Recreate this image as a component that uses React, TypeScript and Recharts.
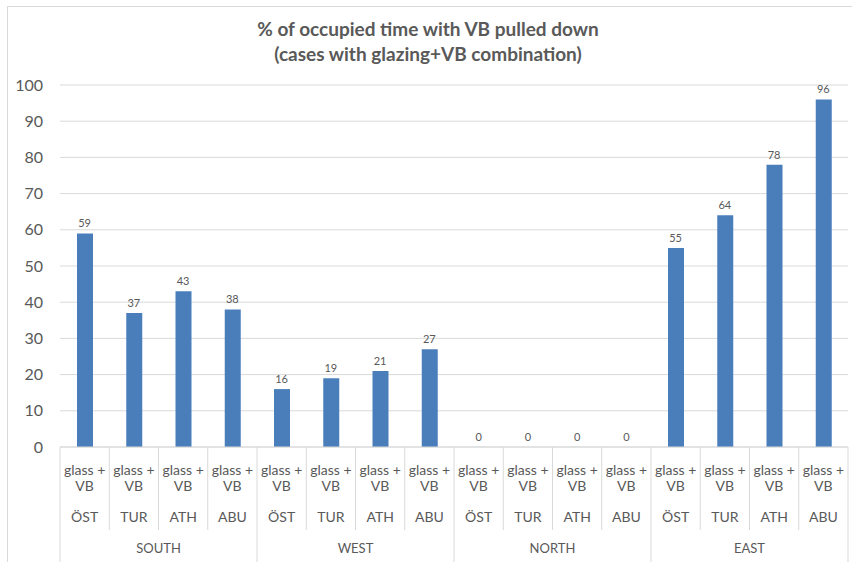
import React from "react";
import { ComposedChart, Bar, Line, XAxis, YAxis, CartesianGrid, LabelList } from "recharts";

const groups = ["SOUTH", "WEST", "NORTH", "EAST"];
const cities = ["ÖST", "TUR", "ATH", "ABU"];
const caseLabel = ["glass +", "VB"];
const values = [59, 37, 43, 38, 16, 19, 21, 27, 0, 0, 0, 0, 55, 64, 78, 96];
const yTicks = [0, 10, 20, 30, 40, 50, 60, 70, 80, 90, 100];

const data = values.map((v, i) => ({
  key: `${groups[Math.floor(i / 4)]}-${cities[i % 4]}`,
  group: groups[Math.floor(i / 4)],
  city: cities[i % 4],
  value: v,
}));

const W = 852;
const H = 562;
const MARGIN = { top: 85, right: 4, bottom: 0, left: 8 };
const Y_WIDTH = 52;
const BAND = (W - MARGIN.left - Y_WIDTH - MARGIN.right) / values.length;

const FONT = "Lato, 'Liberation Sans', sans-serif";
const TEXT = "#595959";
const LINE = "#d9d9d9";
const BAR = "#4a7ebb";

function CategoryTick(props: any) {
  const { x, y, payload, index } = props;
  const half = BAND / 2;
  const item = data[index] || data.find((d) => d.key === payload.value);
  const isGroupStart = index % 4 === 0;
  const isLast = index === data.length - 1;
  return (
    <g fontFamily={FONT} fill={TEXT}>
      <line x1={x - half} x2={x - half} y1={y} y2={isGroupStart ? H : y + 83} stroke={LINE} />
      {isLast && <line x1={x + half} x2={x + half} y1={y} y2={H} stroke={LINE} />}
      <text x={x} y={y + 24} textAnchor="middle" dominantBaseline="middle" fontSize={14}>
        {caseLabel[0]}
      </text>
      <text x={x} y={y + 40} textAnchor="middle" dominantBaseline="middle" fontSize={14}>
        {caseLabel[1]}
      </text>
      <text x={x} y={y + 71} textAnchor="middle" dominantBaseline="middle" fontSize={14}>
        {item ? item.city : ""}
      </text>
      {index % 4 === 1 && (
        <text x={x + half} y={y + 103} textAnchor="middle" dominantBaseline="middle" fontSize={13}>
          {item ? item.group : ""}
        </text>
      )}
    </g>
  );
}

export default function App() {
  return (
    <div style={{ position: "absolute", left: 0, top: 0, width: W, height: H, background: "#fff", overflow: "hidden" }}>
      <div
        style={{
          position: "absolute",
          left: 7,
          top: 6,
          width: W,
          height: H,
          border: `1px solid ${LINE}`,
        }}
      />
      <div
        style={{
          position: "absolute",
          left: 0,
          top: 16,
          width: 856,
          textAlign: "center",
          fontFamily: FONT,
          fontWeight: 700,
          fontSize: 19,
          lineHeight: "25px",
          color: TEXT,
        }}
      >
        % of occupied time with VB pulled down
        <br />
        (cases with glazing+VB combination)
      </div>
      <div style={{ position: "absolute", left: 0, top: 0 }}>
        <ComposedChart width={W} height={H} data={data} margin={MARGIN} barSize={16}>
          <CartesianGrid vertical={false} stroke={LINE} />
          <XAxis
            dataKey="key"
            interval={0}
            height={115}
            tickSize={0}
            tickMargin={0}
            tickLine={false}
            axisLine={{ stroke: LINE }}
            tick={<CategoryTick />}
          />
          <YAxis
            width={Y_WIDTH}
            domain={[0, 100]}
            ticks={yTicks}
            interval={0}
            tickSize={0}
            tickMargin={17}
            axisLine={false}
            tickLine={false}
            tick={{ fontSize: 16, fill: TEXT, fontFamily: FONT }}
          />
          <Bar dataKey="value" fill={BAR} isAnimationActive={false} />
          <Line
            dataKey="value"
            stroke="none"
            dot={false}
            activeDot={false}
            legendType="none"
            isAnimationActive={false}
          >
            <LabelList dataKey="value" position="top" offset={6} fill={TEXT} fontSize={11} fontFamily={FONT} />
          </Line>
        </ComposedChart>
      </div>
    </div>
  );
}
